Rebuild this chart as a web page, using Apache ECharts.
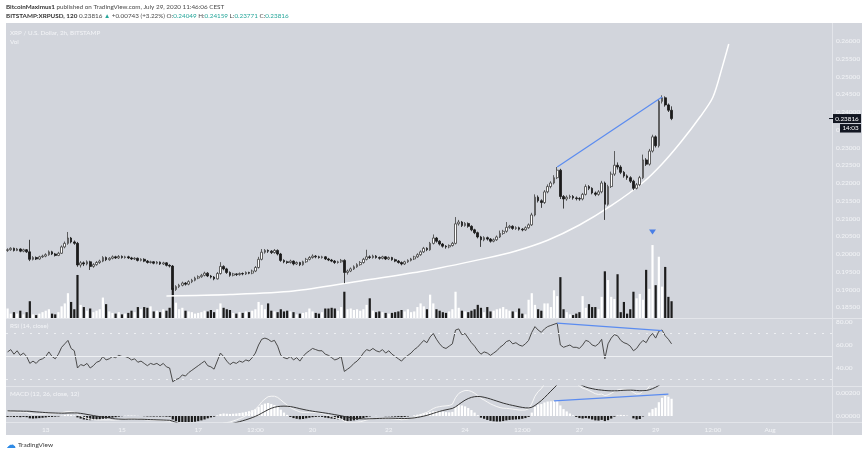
<!DOCTYPE html>
<html><head><meta charset="utf-8">
<script src="https://cdn.jsdelivr.net/npm/echarts@6/dist/echarts.min.js"></script>
<style>html,body{margin:0;padding:0;background:#fff;}#c{width:868px;height:452px;}</style>
</head><body><div id="c"></div>
<script>
// ---- data (prices in 1e-4 USD: [open, close, low, high]) ----
const candles = [
[2010,2012,2006,2016],[2012,2016,2009,2019],[2016,2010,2007,2018],[2010,2014,2008,2017],[2014,2008,2005,2016],
[2008,2012,2005,2015],[2012,2006,2003,2014],[2006,1985,1980,2040],[1985,1990,1982,1994],[1990,1986,1983,1993],
[1986,1992,1984,1995],[1992,1994,1989,1998],[1994,1998,1991,2002],[1998,2006,1995,2010],[2006,2000,1997,2009],
[2000,1996,1993,2003],[1996,2002,1994,2006],[2002,2020,2000,2024],[2020,2030,2016,2035],[2030,2045,2026,2062],
[2045,2034,2030,2048],[2034,2030,2026,2038],[2030,1969,1964,2034],[1969,1975,1962,1980],[1975,1972,1966,1979],
[1972,1978,1968,1982],[1978,1965,1955,1981],[1965,1970,1961,1974],[1970,1976,1967,1980],[1976,1980,1972,1984],
[1980,1990,1977,1994],[1990,1984,1980,1993],[1984,1988,1981,1991],[1988,1992,1985,1996],[1992,1989,1986,1995],
[1989,1993,1986,1997],[1993,1990,1987,1996],[1990,1992,1987,1995],[1992,1989,1986,1995],[1989,1986,1983,1992],
[1986,1988,1983,1991],[1988,1982,1979,1990],[1982,1985,1979,1988],[1985,1980,1977,1988],[1980,1976,1973,1983],
[1976,1978,1973,1981],[1978,1974,1971,1980],[1974,1977,1971,1980],[1977,1972,1969,1979],[1972,1975,1969,1978],
[1975,1968,1965,1977],[1968,1966,1962,1971],[1966,1900,1893,1969],[1900,1908,1896,1912],[1908,1912,1904,1916],
[1912,1918,1909,1922],[1918,1915,1911,1921],[1915,1922,1912,1926],[1922,1926,1918,1930],[1926,1932,1923,1936],
[1932,1936,1929,1940],[1936,1940,1933,1944],[1940,1946,1937,1950],[1946,1938,1935,1949],[1938,1935,1931,1941],
[1935,1930,1926,1938],[1930,1945,1928,1949],[1945,1965,1942,1977],[1965,1958,1954,1968],[1958,1948,1944,1961],
[1948,1940,1936,1951],[1940,1944,1937,1947],[1944,1942,1938,1946],[1942,1945,1939,1948],[1945,1944,1940,1948],
[1944,1948,1941,1951],[1948,1946,1943,1950],[1946,1952,1943,1956],[1952,1962,1949,1966],[1962,1985,1959,1992],
[1985,2005,1982,2014],[2005,2010,2001,2014],[2010,2008,2003,2013],[2008,2004,2000,2011],[2004,2010,2001,2014],
[2010,2000,1996,2013],[2000,1982,1978,2003],[1982,1978,1974,1985],[1978,1976,1972,1981],[1976,1980,1973,1984],
[1980,1972,1968,1982],[1972,1976,1969,1979],[1976,1970,1966,1978],[1970,1978,1967,1981],[1978,1985,1975,1989],
[1985,1990,1982,1994],[1990,1994,1987,1999],[1994,1992,1988,1997],[1992,1990,1987,1995],[1990,1992,1987,1995],
[1992,1986,1983,1994],[1986,1983,1980,1989],[1983,1980,1977,1986],[1980,1976,1972,1983],[1976,1978,1973,1981],
[1978,1982,1975,1986],[1982,1948,1918,1985],[1948,1952,1942,1956],[1952,1958,1949,1962],[1958,1964,1955,1968],
[1964,1970,1961,1974],[1970,1976,1967,1980],[1976,1985,1973,1989],[1985,1992,1982,2012],[1992,1990,1986,1996],
[1990,1994,1987,1998],[1994,1990,1987,1997],[1990,1988,1984,1993],[1988,1992,1985,1995],[1992,1986,1983,1994],
[1986,1990,1983,1993],[1990,1984,1981,1992],[1984,1980,1977,1987],[1980,1976,1973,1983],[1976,1972,1968,1979],
[1972,1978,1969,1981],[1978,1982,1975,1985],[1982,1986,1979,1989],[1986,1992,1983,1995],[1992,1998,1989,2002],
[1998,2006,1995,2010],[2006,2016,2003,2020],[2016,2012,2008,2019],[2012,2030,2009,2034],[2030,2045,2027,2055],
[2045,2036,2032,2048],[2036,2028,2024,2039],[2028,2022,2018,2031],[2022,2020,2015,2025],[2020,2024,2016,2027],
[2024,2030,2021,2034],[2030,2085,2027,2104],[2085,2090,2080,2096],[2090,2080,2076,2093],[2080,2086,2077,2090],
[2086,2078,2074,2089],[2078,2068,2064,2081],[2068,2060,2056,2071],[2060,2048,2044,2063],[2048,2040,2020,2051],
[2040,2046,2036,2050],[2046,2042,2038,2049],[2042,2036,2032,2045],[2036,2040,2033,2044],[2040,2048,2037,2052],
[2048,2058,2045,2066],[2058,2064,2054,2068],[2064,2075,2060,2090],[2075,2078,2071,2082],[2078,2072,2068,2081],
[2072,2074,2068,2078],[2074,2070,2066,2077],[2070,2068,2064,2073],[2068,2074,2065,2078],[2074,2082,2071,2086],
[2082,2110,2079,2116],[2110,2160,2106,2168],[2160,2150,2145,2165],[2150,2145,2130,2154],[2145,2175,2141,2180],
[2175,2190,2171,2196],[2190,2200,2185,2205],[2200,2215,2196,2222],[2215,2236,2211,2245],[2236,2162,2155,2240],
[2162,2155,2128,2166],[2155,2160,2150,2165],[2160,2162,2155,2167],[2162,2158,2153,2166],[2158,2156,2151,2162],
[2156,2155,2150,2160],[2155,2168,2151,2172],[2168,2190,2165,2196],[2190,2185,2180,2194],[2185,2172,2168,2188],
[2172,2168,2163,2176],[2168,2175,2164,2180],[2175,2200,2171,2206],[2200,2140,2096,2204],[2140,2190,2136,2195],
[2190,2225,2186,2232],[2225,2250,2220,2290],[2250,2245,2238,2258],[2245,2230,2225,2250],[2230,2220,2215,2234],
[2220,2215,2209,2224],[2215,2205,2200,2219],[2205,2185,2180,2209],[2185,2195,2182,2200],[2195,2215,2191,2220],
[2215,2265,2211,2280],[2265,2253,2248,2270],[2253,2290,2249,2296],[2290,2330,2286,2336],[2330,2305,2300,2334],
[2305,2430,2300,2436],[2430,2440,2424,2447],[2440,2420,2415,2444],[2420,2405,2400,2424],[2404.9,2381.6,2377.1,2415.9]
];
const volumes = [13,6,8,6,10,5,8,23,5,4,6,8,10,12,6,5,8,16,20,34,22,12,59,18,15,10,13,8,10,
12,28,19,9,7,6,8,5,6,7,10,8,15,12,15,14,16,9,10,8,12,10,14,41,21,12,14,10,9,8,6,7,8,10,9,11,8,
12,20,14,12,11,7,6,8,7,9,8,10,12,22,18,12,20,10,9,8,12,9,10,9,8,5,6,7,8,13,9,7,6,8,13,13,14,13,10,15,36,
12,13,11,12,10,12,18,27,10,8,9,8,7,6,7,8,9,11,9,12,8,9,15,20,16,12,32,20,12,10,8,7,9,12,
36,14,10,9,8,10,12,18,14,8,15,9,10,12,13,15,12,10,9,8,13,6,5,25,34,18,12,10,20,20,15,38,30,56,
12,8,5,4,6,8,30,14,19,15,15,12,29,64,52,29,26,60,8,22,6,12,36,27,33,25,66,40,100,45,84,43,70,29,23];
const rsiValues = [54,56,52,55,51,53,50,44,46,44,47,48,50,54,50,48,52,58,61,64,57,55,
40,43,42,44,40,42,45,46,50,47,48,50,49,51,50,50,49,47,48,45,46,44,42,44,43,44,42,44,41,40,
28,30,31,34,33,36,38,40,42,44,46,42,41,39,46,53,50,46,43,45,44,46,45,47,46,49,53,
60,65,66,65,63,64,59,51,49,48,50,47,49,46,50,53,55,57,56,55,55,52,51,49,47,48,50,
37,39,41,44,46,49,53,56,55,57,55,54,56,53,55,52,50,48,46,49,51,53,56,58,61,64,62,67,70,65,61,58,57,59,61,
73,74,69,70,66,62,59,55,52,54,53,51,53,55,58,60,63,64,61,62,60,59,61,64,71,76,73,71,74,76,77,78,79,
60,58,59,60,58,58,57,60,64,63,60,59,61,65,48,61,66,69,68,64,62,61,59,55,57,61,64,62,67,70,66,72,73,68,65,61];
// MACD values in 1e-5 USD
const macdLine = [37,38,35,36,33,34,32,21,16,16,16,17,18,20,19,20,21,29,35,40,
37,33,14,1,-11,-19,-27,-31,-33,-34,-33,-34,-33,-36,-35,-33,-30,-25,-22,-22,
-23,-26,-28,-31,-34,-35,-37,-37,-39,-39,-42,-44,-75,-100,-118,-133,-146,-154,-160,-162,
-161,-156,-148,-136,-124,-112,-95,-74,-62,-57,-52,-43,-34,-23,-11,3,18,36,57,88,
123,148,168,172,172,162,140,116,95,74,59,47,36,32,32,32,32,30,28,22,
12,4,-5,-14,-21,-26,-44,-54,-57,-57,-54,-50,-43,-35,-28,-23,-20,-21,-20,-21,
-21,-23,-26,-29,-32,-30,-25,-19,-10,0,11,23,32,48,65,76,82,86,88,92,
102,160,196,212,222,222,214,198,178,154,139,122,106,93,82,73,68,67,64,60,
56,52,51,53,62,106,172,212,238,278,314,344,374,402,386,368,354,334,310,284,
260,242,234,222,208,194,188,191,178,184,197,213,226,232,232,229,225,204,192,194,
216,222,258,298,322,386,446,488,508,510];
const signalLine = [45,44,44,43,43,42,42,41,38,36,34,32,30,28,27,26,25,25,25,26,
27,27,26,23,19,14,9,4,-1,-5,-9,-12,-15,-22,-25,-27,-28,-28,-27,-27,
-27,-28,-28,-29,-30,-31,-32,-33,-34,-35,-36,-37,-45,-55,-66,-77,-88,-98,-106,-112,
-116,-118,-118,-116,-112,-106,-100,-92,-84,-77,-70,-63,-56,-49,-41,-33,-24,-14,-3,10,
25,40,55,67,76,82,85,86,85,82,77,71,64,58,52,47,42,38,34,30,
26,22,17,12,7,2,-4,-10,-15,-19,-22,-24,-25,-25,-24,-23,-22,-21,-20,-19,
-19,-19,-20,-21,-22,-22,-21,-19,-16,-12,-7,-1,6,14,23,32,40,48,54,60,
66,80,100,120,138,152,162,168,170,168,163,156,148,139,130,121,112,105,98,92,
86,80,75,71,70,76,92,112,134,160,188,216,244,272,294,308,314,312,304,292,
278,264,252,244,238,232,228,225,222,220,219,219,220,222,224,225,225,224,222,220,
220,222,228,238,250,266,288,314,340,360];
const macdHist = [-8,-6,-9,-7,-10,-8,-10,-20,-22,-20,-18,-15,-12,-8,-8,-6,-4,4,10,14,
10,6,-12,-22,-30,-33,-36,-35,-32,-29,-24,-22,-18,-14,-10,-6,-2,3,5,5,
4,2,0,-2,-4,-4,-5,-4,-5,-4,-6,-7,-30,-45,-52,-56,-58,-56,-54,-50,
-45,-38,-30,-20,-12,-6,5,18,22,20,18,20,22,26,30,36,42,50,60,78,
98,108,113,105,96,80,55,30,10,-8,-18,-24,-28,-26,-20,-15,-10,-8,-6,-8,
-14,-18,-22,-26,-28,-28,-40,-44,-42,-38,-32,-26,-18,-10,-4,0,2,0,0,-2,
-2,-4,-6,-8,-10,-8,-4,0,6,12,18,24,26,34,42,44,42,38,34,32,
36,80,96,92,84,70,52,30,8,-14,-24,-34,-42,-46,-48,-48,-44,-38,-34,-32,
-30,-28,-24,-18,-8,30,80,100,104,118,126,128,130,130,92,60,40,22,6,-8,
-18,-22,-18,-22,-30,-38,-40,-34,-44,-36,-22,-6,6,10,8,4,0,-20,-30,-26,
-4,0,30,60,72,120,158,174,168,150];
const priceTicks = [0.185,0.19,0.195,0.2,0.205,0.21,0.215,0.22,0.225,0.23,0.235,0.24,0.245,0.25,0.255,0.26];
const rsiTicks = [40,60,80];
const macdTicks = [0,200];
const tickIdx = [12,36,60,78,96,120,144,162,180,204,222,240];
const tickText = ['13','15','17','12:00','20','22','24','12:00','27','29','12:00','Aug'];
// drawings (bar index, value)
const arcPoints = [[50,0.18817],[70,0.18859],[90,0.18958],[110,0.19228],[130,0.19504],[150,0.19870],[160,0.20087],
  [170,0.20389],[180,0.20817],[190,0.21361],[200,0.22014],[206,0.22535],[212,0.23161],[218,0.23865],[222,0.24414],
  [225,0.25279],[227,0.25915]];
const priceTrend = [[173,0.2245],[206,0.2442]];
const rsiTrend = [[173,79],[206,72.5]];
const macdTrend = [[172,132],[208,190]];
const signalBar = 203;
const lastPrice = 0.23816;
const lastTimer = '14:03';

// ---- build ----
const N = 260;
const categories = [];
const t0 = Date.UTC(2020,6,12,0,0);
for (let i=0;i<N;i++){ categories.push(new Date(t0+i*7200000).toISOString().slice(0,16).replace('T',' ')); }
const candleData = candles.map(r=>r.map(v=>v/1e4));
const up = candles.map(r=>r[1]>=r[0]);
const volData = volumes.map((v,i)=>({value:v,itemStyle:{color: up[i]?'#ffffff':'#1c1c1c'}}));
const histData = macdHist.map(v=>({value:v,itemStyle:{color: v>=0?'#ffffff':'#1c1c1c'}}));
const LBL = '#f3f4f7', FONT = 'Lato', BLUE = '#5b8cf0';

const chart = echarts.init(document.getElementById('c'));
function xa(gi, show){
  return {type:'category', gridIndex:gi, data:categories, boundaryGap:true,
    axisLine:{show:false}, axisTick:{show:false}, splitLine:{show:false},
    axisLabel: show ? {show:true, interval:(idx)=>tickIdx.includes(idx),
      formatter:(v,idx)=>{const k=tickIdx.indexOf(idx);return k>=0?tickText[k]:'';},
      color:LBL, fontSize:6.5, fontFamily:FONT, margin:4, hideOverlap:false} : {show:false}};
}
function ya(gi, min, max, ticks, fmt){
  return {type:'value', gridIndex:gi, position:'right', min:min, max:max, scale:true,
    axisLine:{show:false}, axisTick:{show:false}, splitLine:{show:false},
    axisLabel:{show:true, customValues:ticks, formatter:fmt, color:LBL, fontSize:6.5, fontFamily:FONT, margin:4}};
}
const grids = [
  {left:6, right:36, top:24, height:294},
  {left:6, right:36, top:24, height:294},
  {left:6, right:36, top:318, height:68},
  {left:6, right:36, top:386, height:36}
];
function txt(id,x,y,text,size,color,extra,z){
  return {type:'text', id:id, x:x, y:y, z:(z||20), style:Object.assign({text:text, fill:color, fontSize:size, fontFamily:FONT, verticalAlign:'middle'}, extra||{})};
}
const option = {
  animation:false,
  backgroundColor:'#ffffff',
  grid: grids,
  xAxis: [xa(0,false), xa(1,false), xa(2,false), xa(3,true)],
  yAxis: [
    ya(0, 0.18197, 0.26479, priceTicks, v=>v.toFixed(5)),
    {type:'value', gridIndex:1, min:0, max:403, show:false},
    ya(2, 24.35, 83.48, rsiTicks, v=>v.toFixed(2)),
    ya(3, -52, 261, macdTicks, v=>(v/1e5).toFixed(5))
  ],
  graphic: {elements: [
    {type:'rect', id:'bg', z:-10, shape:{x:6,y:23,width:856,height:412}, style:{fill:'#d2d5dc'}},
    {type:'line', id:'s1', z:1, shape:{x1:6,y1:318.5,x2:862,y2:318.5}, style:{stroke:'#e3e5ea',lineWidth:1}},
    {type:'line', id:'s2', z:1, shape:{x1:6,y1:386.5,x2:862,y2:386.5}, style:{stroke:'#e3e5ea',lineWidth:1}},
    {type:'line', id:'s3', z:1, shape:{x1:6,y1:422.5,x2:862,y2:422.5}, style:{stroke:'#e3e5ea',lineWidth:1}},
    {type:'line', id:'s4', z:1, shape:{x1:832.5,y1:23,x2:832.5,y2:435}, style:{stroke:'#e3e5ea',lineWidth:1}},
    txt('h1',6,7,'{b|BitcoinMaximus1} published on TradingView.com, July 29, 2020 11:46:06 CEST',6.3,'#4a4a4a',
      {rich:{b:{fontWeight:'bold',fontSize:6.3,fontFamily:FONT,fill:'#333'}}}),
    txt('h2',6,16,'{b|BITSTAMP:XRPUSD, 120} 0.23816 {g|▲} +0.00743 (+3.22%) O:{g|0.24049} H:{g|0.24159} L:{g|0.23771} C:{g|0.23816}',6.3,'#4a4a4a',
      {rich:{b:{fontWeight:'bold',fontSize:6.3,fontFamily:FONT,fill:'#333'}, g:{fontSize:6.3,fontFamily:FONT,fill:'#26a69a'}}}),
    txt('t1',10,33,'XRP / U.S. Dollar, 2h, BITSTAMP',6.3,LBL),
    txt('t2',10,42,'Vol',6.3,LBL),
    txt('t3',10,326,'RSI (14, close)',6.3,LBL),
    txt('t4',10,394,'MACD (12, 26, close, 12)',6.3,LBL),
    txt('logo1',6,445,'☁',10,'#2f8be6'),
    txt('logo2',18,445,'TradingView',6.5,'#3a3a3a')
  ]},
  series: [
    {type:'bar', name:'Volume', xAxisIndex:1, yAxisIndex:1, data:volData, barWidth:2.2, z:1,
      markPoint:{silent:true, label:{show:false}, data:[{coord:[signalBar, volumes[signalBar]], symbol:'triangle', symbolRotate:180,
        symbolSize:[7,5], symbolOffset:[0,-13], itemStyle:{color:'#4a7fe6'}}]}},
    {type:'line', name:'Arc', xAxisIndex:0, yAxisIndex:0, data:arcPoints, smooth:0.3, showSymbol:false, z:2,
      lineStyle:{color:'#ffffff', width:1.5}},
    {type:'candlestick', name:'XRPUSD', xAxisIndex:0, yAxisIndex:0, data:candleData, barWidth:2.2, z:3,
      itemStyle:{color:'#ffffff', color0:'#1b1b1b', borderColor:'#3d3d3d', borderColor0:'#1b1b1b', borderWidth:0.8},
      markLine:{silent:true, symbol:['none','none'], label:{show:false},
        data:[[{coord:priceTrend[0]},{coord:priceTrend[1]}]], lineStyle:{color:BLUE, width:1.2, type:'solid'}}},
    {type:'line', name:'RSI', xAxisIndex:2, yAxisIndex:2, data:rsiValues, showSymbol:false, z:3,
      lineStyle:{color:'#4a4a4a', width:1},
      markLine:{silent:true, symbol:['none','none'], label:{show:false},
        data:[
          {yAxis:70, lineStyle:{color:'#eef0f3', type:[2,6], width:1}},
          {yAxis:30, lineStyle:{color:'#eef0f3', type:[2,6], width:1}},
          {yAxis:50, lineStyle:{color:'#eef0f3', type:'solid', width:1}},
          [{coord:rsiTrend[0], lineStyle:{color:BLUE, width:1.2, type:'solid'}},{coord:rsiTrend[1]}]
        ]}},
    {type:'bar', name:'Histogram', xAxisIndex:3, yAxisIndex:3, data:histData, barWidth:2.2, z:2,
      markLine:{silent:true, symbol:['none','none'], label:{show:false},
        data:[[{coord:macdTrend[0]},{coord:macdTrend[1]}]], lineStyle:{color:BLUE, width:1.2, type:'solid'}}},
    {type:'line', name:'MACD', xAxisIndex:3, yAxisIndex:3, data:macdLine, showSymbol:false, z:3,
      lineStyle:{color:'#f6f6f6', width:1}},
    {type:'line', name:'Signal', xAxisIndex:3, yAxisIndex:3, data:signalLine, showSymbol:false, z:3,
      lineStyle:{color:'#333333', width:1}}
  ]
};
chart.setOption(option);
const py = chart.convertToPixel({xAxisIndex:0, yAxisIndex:0}, [0, lastPrice])[1];
chart.setOption({graphic:{elements:[
  {type:'line', id:'bd', z:21, shape:{x1:829,y1:py,x2:833,y2:py}, style:{stroke:'#131722',lineWidth:1}},
  {type:'rect', id:'b1', z:21, shape:{x:833,y:py-4.5,width:28,height:9}, style:{fill:'#131722'}},
  txt('b1t',847,py,lastPrice.toFixed(5),6.3,'#ffffff',{align:'center'},25),
  {type:'rect', id:'b2', z:21, shape:{x:840,y:py+5.5,width:21,height:8.5}, style:{fill:'#131722'}},
  txt('b2t',850.5,py+9.8,lastTimer,6.3,'#ffffff',{align:'center'},25)
]}});
</script>
</body></html>
